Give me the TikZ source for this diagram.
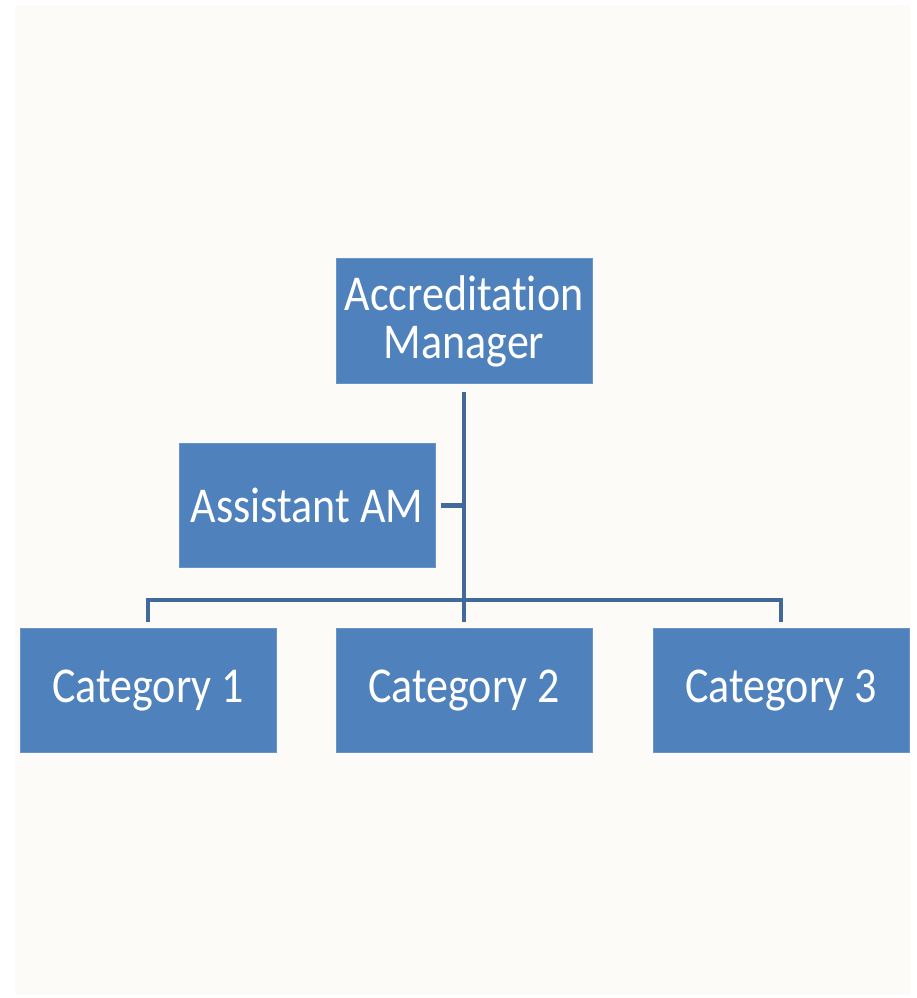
\documentclass[tikz,border=0pt]{standalone}
\usepackage{fontspec}
\setmainfont{Carlito}[RawFeature=-liga]
\usepackage{xcolor}
\usetikzlibrary{positioning}
\definecolor{boxblue}{HTML}{4F81BD}
\definecolor{lineblue}{HTML}{41699B}
\definecolor{paper}{HTML}{FCFBF7}

\begin{document}
\begin{tikzpicture}[x=1pt, y=-1pt,
        post/.style={fill=boxblue, draw=boxblue!85!white, line width=1pt, yscale=1.14, transform shape, minimum width=256pt, minimum height=108.8pt, text=white, align=center, inner sep=0pt, font=\fontsize{44}{42}\selectfont},
        link/.style={draw=lineblue, line width=4.5pt}]
                \useasboundingbox (0,0) rectangle (916,998);
                \fill[white] (0,0) rectangle (916,998);
                \fill[paper] (15,5) rectangle (910,995);
                \node[post] (am) at (464,321) {Accreditation\\Manager};
                \node[post] (asst) at (307,505.5) {Assistant AM};
                \node[post] (cat2) at (464,690.5) {Category 2};
                \node[post, left=59pt of cat2] (cat1) {Category 1};
                \node[post, right=60pt of cat2] (cat3) {Category 3};
                \coordinate (bar) at (464,600);
                \draw[link, shorten <=8pt, shorten >=6pt] (am.south) -- (am.south |- cat2.north);
                \draw[link, shorten <=6pt, shorten >=6pt] (cat1.north) |- (bar) -| (cat3.north);
                \draw[link, shorten <=5pt] (asst.east) -- (asst.east -| am.south);
            \end{tikzpicture}
\end{document}
